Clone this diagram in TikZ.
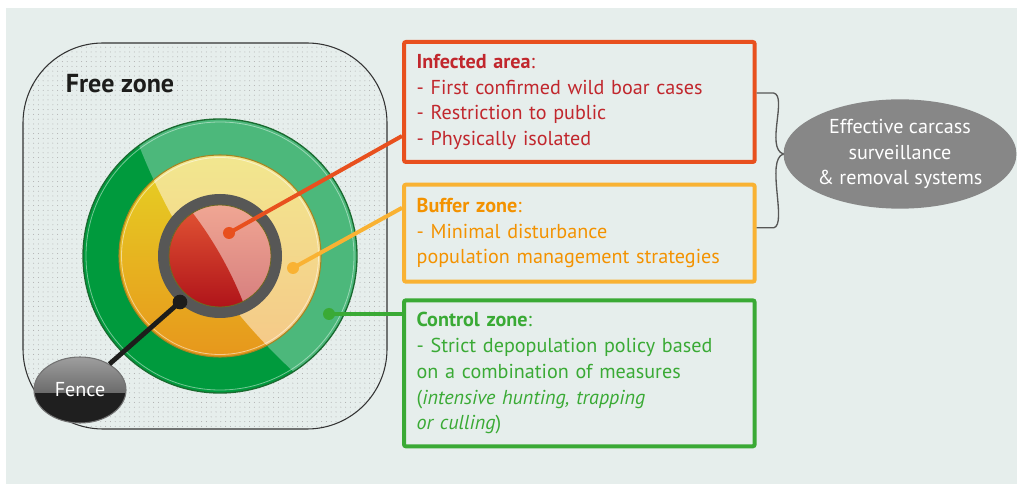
\documentclass[tikz,border=0pt]{standalone}
\usepackage{fontspec}
\setmainfont{PT Sans}
\usetikzlibrary{positioning,shapes.geometric,patterns.meta}

\definecolor{panel}{HTML}{E6EEEC}
\definecolor{infline}{HTML}{E8501E}
\definecolor{inftext}{HTML}{C1272D}
\definecolor{bufline}{HTML}{F9B233}
\definecolor{buftext}{HTML}{F39200}
\definecolor{ctrlline}{HTML}{3AAA35}
\definecolor{ctrldark}{HTML}{009A3D}
\definecolor{ctrllight}{HTML}{4CB87B}
\definecolor{ctrledge}{HTML}{1A6B30}
\definecolor{bufdarktop}{HTML}{E6D224}
\definecolor{bufdarkbot}{HTML}{E7971C}
\definecolor{buflighttop}{HTML}{F2E78F}
\definecolor{buflightbot}{HTML}{F5C888}
\definecolor{bufedge}{HTML}{A88420}
\definecolor{reddarktop}{HTML}{E35534}
\definecolor{reddarkbot}{HTML}{B0141A}
\definecolor{redlighttop}{HTML}{F0A693}
\definecolor{redlightbot}{HTML}{D67E7E}
\definecolor{fencegray}{HTML}{575756}
\definecolor{survgray}{HTML}{878787}
\definecolor{inkblack}{HTML}{1D1D1B}

\tikzset{%
  % boxes on the right
        base/.style = {rectangle, rounded corners=1.5pt, line width=3pt,
                       minimum width=263pt, text width=244pt, inner xsep=9.5pt,
                       align=left, font=\fontsize{15.1}{19.3}\selectfont},
      infbox/.style = {base, draw=infline, text=inftext, minimum height=90pt},
      bufbox/.style = {base, draw=bufline, text=buftext, minimum height=72.75pt},
     ctrlbox/.style = {base, draw=ctrlline, text=ctrlline, minimum height=109.5pt},
  % dots on the rings and their leaders
      pindot/.style = {circle, inner sep=0pt, minimum size=9pt},
      leader/.style = {line width=3pt},
       brace/.style = {draw=fencegray, line width=1pt},
}

\begin{document}
\begin{tikzpicture}[x=0.75pt, y=-0.75pt]
    \useasboundingbox (0,0) rectangle (1017,484);
    \fill[panel] (6,8) rectangle (1017,484);

    % free zone
    \draw[black!80, line width=0.8pt, pattern={Dots[distance=3.6pt, radius=0.38pt]},
          pattern color=black!32, rounded corners=60pt] (23,43) rectangle (387,429);
    \node (free) [font=\bfseries\fontsize{19.5}{22}\selectfont, text=inkblack] at (120,84) {Free zone};

    \coordinate (c) at (220,256);

    % control zone ring
    \begin{scope}
        \clip (c) circle (137);
        \fill[ctrldark] (c) circle (137);
        \fill[ctrllight] (710,-78) circle (613);
    \end{scope}
    \draw[white, opacity=0.45, line width=0.6pt] (c) circle (134);
    \draw[ctrledge, line width=1pt] (c) circle (137);

    % buffer zone ring
    \begin{scope}
        \clip (c) circle (101);
        \shade[top color=bufdarktop, bottom color=bufdarkbot] (c) circle (101);
        \clip (710,-78) circle (613);
        \shade[top color=buflighttop, bottom color=buflightbot] (c) circle (101);
    \end{scope}
    \draw[white, opacity=0.5, line width=0.6pt] (c) circle (98.5);
    \draw[bufedge, line width=0.8pt] (c) circle (101);

    % fence and infected area
    \fill[fencegray] (c) circle (62);
    \begin{scope}
        \clip (c) circle (51);
        \shade[top color=redlighttop, bottom color=redlightbot] (c) circle (51);
        \clip (-111,443) circle (381);
        \shade[top color=reddarktop, bottom color=reddarkbot] (c) circle (51);
    \end{scope}
    \draw[olive!70!black, line width=0.6pt] (c) circle (51);

    % text boxes
    \node (infected) [infbox, anchor=north west] at (402,40)
        {\textbf{Infected area}:\\- First confirmed wild boar cases\\- Restriction to public\\- Physically isolated};
    \node (buffer) [bufbox, below=14pt of infected]
        {\textbf{Buffer zone}:\\- Minimal disturbance\\population management strategies};
    \node (control) [ctrlbox, below=11pt of buffer]
        {\textbf{Control zone}:\\- Strict depopulation policy based\\on a combination of measures\\(\textit{intensive hunting, trapping}\\\textit{or culling})};

    \node (surv) [ellipse, fill=survgray, text=white, minimum width=160pt, minimum height=82pt,
                  inner sep=0pt, align=center, font=\fontsize{15.1}{19}\selectfont] at (900,154)
        {Effective carcass\\surveillance\\\& removal systems};

    % brace from the two upper boxes
    \coordinate (braceA) at ([yshift=6.75pt]infected.east);
    \coordinate (braceB) at ([yshift=4pt]buffer.east);
    \draw[brace] (braceA) -- ++(17,0) .. controls +(14,3) and +(-18,-6) .. (surv.west)
                 .. controls +(-18,6) and +(14,-3) .. ([xshift=12.75pt]braceB) -- (braceB);

    % dots and leaders
    \node (infdot) [pindot, fill=infline] at (229,233) {};
    \node (bufdot) [pindot, fill=bufline] at (293,268) {};
    \node (ctrldot) [pindot, fill=ctrlline] at (329,314) {};
    \node (fencedot) [pindot, fill=inkblack, minimum size=11pt] at (180,302) {};

    \draw[leader, infline] (infdot.center) -- ([yshift=21pt]infected.south west);
    \draw[leader, bufline] (bufdot.center) -- ([yshift=19pt]buffer.west);
    \draw[leader, ctrlline] (ctrldot.center) -- (ctrldot -| control.west);

    \node (fence) [ellipse, draw=black!55, line width=0.8pt, fill=black!88, text=white,
                   minimum width=69pt, minimum height=49.5pt, inner sep=0pt,
                   path picture={\shade[top color=black!38, bottom color=black!75]
                       (path picture bounding box.north west) rectangle
                       ([yshift=-2pt]path picture bounding box.east);}] at (80,390) {};
    \draw[leader, inkblack, line width=3.6pt] (fencedot.center) -- (fence);
    \node at (fence.center) [text=white, font=\fontsize{15.1}{17}\selectfont] {Fence};
\end{tikzpicture}
\end{document}
